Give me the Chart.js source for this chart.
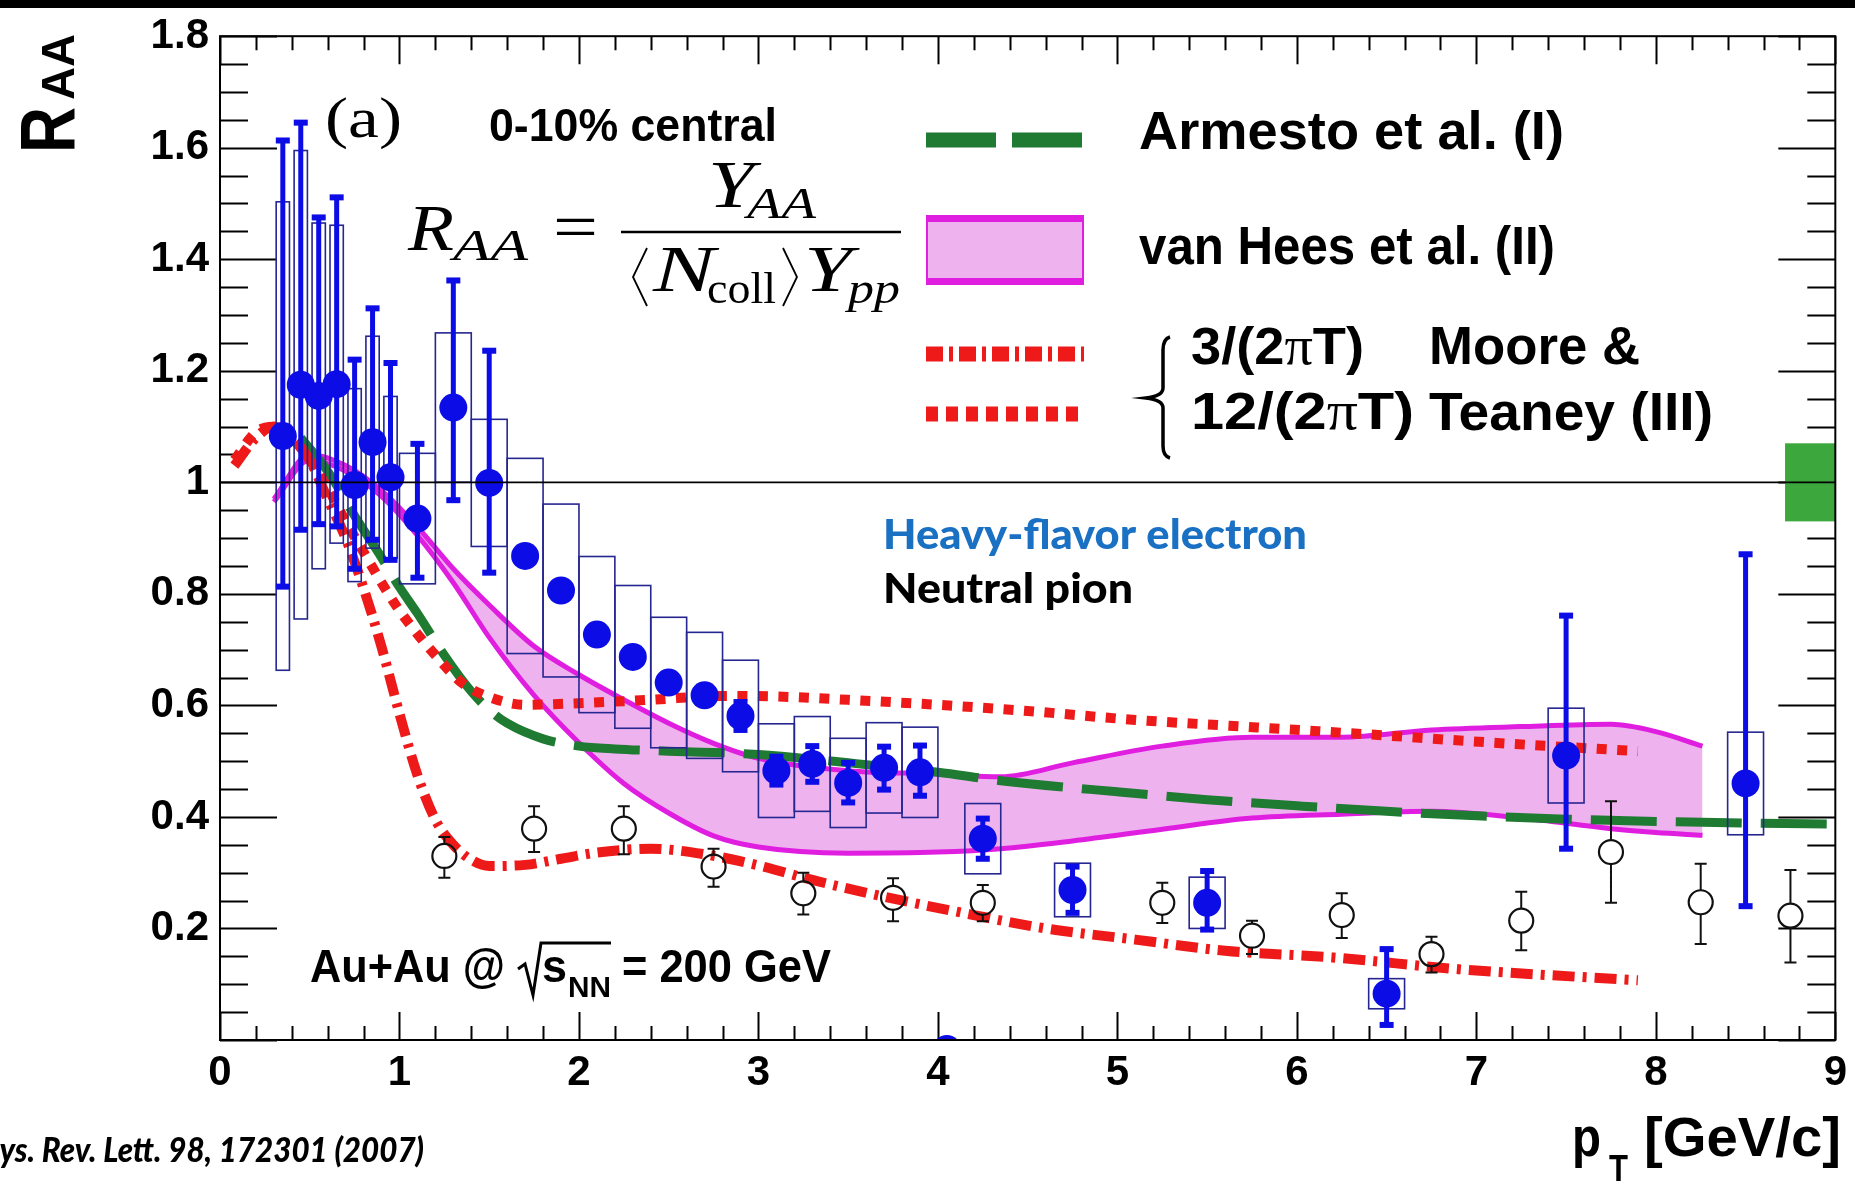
<!DOCTYPE html>
<html>
<head>
<meta charset="utf-8">
<script src="https://cdn.jsdelivr.net/npm/chart.js@4.4.1/dist/chart.umd.min.js"></script>
<style>
  html, body { margin: 0; padding: 0; background: #fff; overflow: hidden; }
  #wrap { width: 1855px; height: 1181px; }
</style>
</head>
<body>
<div id="wrap"><canvas id="c" width="1855" height="1181"></canvas></div>
<script>
// Heavy-flavour electron and pi0 nuclear modification factor, 0-10% central Au+Au, 200 GeV

// ---- heavy-flavour electrons (filled circles, stat. bars, syst. boxes) ----
const hfePt      = [0.35, 0.45, 0.55, 0.65, 0.75, 0.85, 0.95, 1.1, 1.3, 1.5, 1.7, 1.9, 2.1, 2.3, 2.5, 2.7, 2.9, 3.1, 3.3, 3.5, 3.7, 3.9, 4.05, 4.25, 4.75, 5.5, 6.5, 7.5, 8.5];
const hfeRaa     = [1.083, 1.175, 1.155, 1.176, 0.995, 1.072, 1.009, 0.935, 1.134, 0.999, 0.868, 0.806, 0.727, 0.687, 0.641, 0.618, 0.581, 0.483, 0.495, 0.461, 0.488, 0.480, -0.016, 0.361, 0.269, 0.246, 0.083, 0.510, 0.460];
const hfeStatUp  = [0.53, 0.47, 0.32, 0.335, 0.225, 0.24, 0.205, 0.134, 0.228, 0.237, 0, 0, 0, 0, 0, 0, 0.025, 0.025, 0.032, 0.036, 0.038, 0.048, 0, 0.036, 0.042, 0.057, 0.080, 0.251, 0.411];
const hfeStatDn  = [0.27, 0.26, 0.23, 0.255, 0.15, 0.175, 0.148, 0.106, 0.166, 0.161, 0, 0, 0, 0, 0, 0, 0.025, 0.025, 0.032, 0.035, 0.039, 0.042, 0, 0.036, 0.041, 0.048, 0.056, 0.167, 0.22];
const hfeSys     = [0.42, 0.42, 0.31, 0.285, 0.173, 0.19, 0.145, 0.117, 0.134, 0.114, 0.175, 0.155, 0.14, 0.128, 0.117, 0.113, 0.1, 0.084, 0.085, 0.08, 0.081, 0.081, 0, 0.063, 0.048, 0.046, 0.027, 0.085, 0.092];

// ---- neutral pions (open circles) ----
const pi0Pt    = [1.25, 1.75, 2.25, 2.75, 3.25, 3.75, 4.25, 5.25, 5.75, 6.25, 6.75, 7.25, 7.75, 8.25, 8.75];
const pi0Raa   = [0.330, 0.379, 0.379, 0.311, 0.263, 0.255, 0.246, 0.246, 0.187, 0.224, 0.154, 0.214, 0.337, 0.247, 0.223];
const pi0ErrUp = [0.034, 0.040, 0.040, 0.032, 0.037, 0.035, 0.032, 0.036, 0.027, 0.039, 0.031, 0.052, 0.091, 0.069, 0.082];
const pi0ErrDn = [0.039, 0.042, 0.046, 0.036, 0.038, 0.042, 0.033, 0.036, 0.033, 0.041, 0.033, 0.053, 0.091, 0.075, 0.084];

// ---- model curves ----
const armestoPt  = [0.45, 0.6, 0.75, 0.9, 1.0, 1.1, 1.25, 1.4, 1.5, 1.6, 1.8, 2.0, 2.2, 2.5, 3.0, 3.5, 4.0, 4.35, 5.0, 5.5, 6.0, 6.5, 7.0, 7.5, 8.0, 8.5, 9.0];
const armestoRaa = [1.08, 1.02, 0.94, 0.865, 0.812, 0.765, 0.69, 0.625, 0.592, 0.568, 0.54, 0.527, 0.522, 0.518, 0.512, 0.497, 0.48, 0.465, 0.445, 0.431, 0.42, 0.41, 0.402, 0.396, 0.392, 0.389, 0.387];

const vanHeesPt    = [0.3, 0.5, 0.7, 0.9, 1.1, 1.3, 1.5, 1.75, 2.0, 2.25, 2.5, 2.75, 3.0, 3.5, 4.0, 4.35, 4.75, 5.25, 5.75, 6.25, 6.75, 7.25, 7.75, 8.0, 8.26];
const vanHeesUpper = [0.97, 1.05, 1.03, 0.985, 0.92, 0.845, 0.78, 0.706, 0.655, 0.61, 0.568, 0.532, 0.505, 0.483, 0.477, 0.472, 0.497, 0.527, 0.543, 0.543, 0.556, 0.562, 0.566, 0.553, 0.527];
const vanHeesLower = [0.965, 1.04, 1.02, 0.975, 0.905, 0.82, 0.722, 0.618, 0.533, 0.46, 0.407, 0.366, 0.346, 0.335, 0.337, 0.343, 0.357, 0.378, 0.398, 0.405, 0.41, 0.398, 0.379, 0.372, 0.367];

const mooreD3Pt  = [0.08, 0.2, 0.3, 0.4, 0.5, 0.6, 0.7, 0.8, 0.9, 1.0, 1.1, 1.2, 1.3, 1.4, 1.5, 1.7, 1.9, 2.1, 2.4, 2.7, 3.0, 3.3, 3.7, 4.2, 4.6, 5.1, 5.6, 6.2, 6.9, 7.9];
const mooreD3Raa = [1.03, 1.08, 1.1, 1.08, 1.04, 0.97, 0.9, 0.81, 0.705, 0.585, 0.475, 0.395, 0.35, 0.323, 0.312, 0.314, 0.325, 0.336, 0.343, 0.333, 0.313, 0.287, 0.257, 0.224, 0.2, 0.18, 0.16, 0.148, 0.127, 0.107];

const mooreD12Pt  = [0.08, 0.2, 0.3, 0.4, 0.5, 0.6, 0.7, 0.8, 0.9, 1.0, 1.1, 1.2, 1.35, 1.5, 1.7, 2.0, 2.4, 2.8, 3.1, 3.5, 4.0, 4.5, 5.1, 5.7, 6.4, 7.1, 7.9];
const mooreD12Raa = [1.04, 1.09, 1.1, 1.08, 1.04, 0.99, 0.93, 0.875, 0.82, 0.77, 0.728, 0.69, 0.64, 0.615, 0.601, 0.604, 0.61, 0.617, 0.616, 0.61, 0.601, 0.59, 0.574, 0.562, 0.548, 0.533, 0.518];

// unit reference and common normalisation uncertainty
const unityPt  = [0, 9];
const unityRaa = [1, 1];
const normPt   = [8.72, 9.0];
const normRaa  = [0.93, 1.07];

// axis tick values
const xMajorStep = 1, xMinorStep = 0.2;
const yMajorStep = 0.2, yMinorStep = 0.05;

// ---- style ----
const BLUE = '#0c0ce6', BOXBLUE = '#262690', MAGENTA = '#e01ee0', PINK = '#eeb3ef',
      RED = '#ee1a1a', DGREEN = '#1f7a32', NGREEN = '#3ca73c';
const SANS = '"Liberation Sans", Arial, Helvetica, sans-serif';
const SERIF = '"Liberation Serif", "Times New Roman", serif';
const HUM = 'Lato, "Open Sans", sans-serif';

const xy = (xs, ys) => xs.map((x, i) => ({ x, y: ys[i] }));

// draw a sequence of text runs on one baseline, optionally squeezed/stretched to a width
function runs(ctx, x, y, parts, targetW, color) {
  let w = 0;
  for (const p of parts) { ctx.font = p.f; p.w = ctx.measureText(p.t).width; w += p.w; }
  const sx = targetW ? targetW / w : 1;
  ctx.save();
  ctx.translate(x, y);
  ctx.scale(sx, 1);
  ctx.textAlign = 'left';
  ctx.textBaseline = 'alphabetic';
  let cx = 0;
  for (const p of parts) {
    ctx.font = p.f;
    ctx.fillStyle = p.c || color || '#000';
    ctx.fillText(p.t, cx, p.dy || 0);
    cx += p.w;
  }
  ctx.restore();
}
const bold = (s) => `bold ${s}px ${SANS}`;

const decorations = {
  id: 'decorations',
  beforeDraw(chart) {
    const ctx = chart.ctx;
    ctx.save();
    ctx.fillStyle = '#fff';
    ctx.fillRect(0, 0, chart.width, chart.height);
    ctx.fillStyle = '#000';
    ctx.fillRect(0, 0, chart.width, 8);
    ctx.restore();
  },
  beforeDatasetsDraw(chart) {
    const { ctx, chartArea: a, scales: { x, y } } = chart;
    ctx.save();
    ctx.strokeStyle = '#000';
    ctx.lineWidth = 2;
    ctx.beginPath();
    // ticks on all four sides, pointing into the frame
    for (let v = 0; v <= 9 + 1e-9; v += xMinorStep) {
      const major = Math.abs(v / xMajorStep - Math.round(v / xMajorStep)) < 1e-6;
      const px = Math.round(x.getPixelForValue(v)) + 0.5;
      const len = major ? 28 : 14;
      ctx.moveTo(px, a.bottom); ctx.lineTo(px, a.bottom - len);
      ctx.moveTo(px, a.top); ctx.lineTo(px, a.top + len);
    }
    for (let v = 0; v <= 1.8 + 1e-9; v += yMinorStep) {
      const major = Math.abs(v / yMajorStep - Math.round(v / yMajorStep)) < 1e-6;
      const py = Math.round(y.getPixelForValue(v)) + 0.5;
      const len = major ? 57 : 28;
      ctx.moveTo(a.left, py); ctx.lineTo(a.left + len, py);
      ctx.moveTo(a.right, py); ctx.lineTo(a.right - len, py);
    }
    ctx.stroke();
    // global normalisation uncertainty
    ctx.fillStyle = NGREEN;
    const bx0 = x.getPixelForValue(normPt[0]), bx1 = x.getPixelForValue(normPt[1]);
    const by0 = y.getPixelForValue(normRaa[1]), by1 = y.getPixelForValue(normRaa[0]);
    ctx.fillRect(bx0, by0, bx1 - bx0, by1 - by0);
    ctx.restore();
  },
  beforeDatasetDraw(chart, args) {
    const ds = chart.data.datasets[args.index];
    const { ctx, chartArea: a, scales: { x, y } } = chart;
    if (ds.label !== 'hfe' && ds.label !== 'pi0') return;
    ctx.save();
    ctx.beginPath();
    ctx.rect(a.left, a.top, a.right - a.left, a.bottom - a.top);
    ctx.clip();
    if (ds.label === 'hfe') {
      // systematic boxes
      ctx.strokeStyle = BOXBLUE;
      ctx.lineWidth = 1.6;
      hfePt.forEach((pt, i) => {
        if (!hfeSys[i]) return;
        const hw = pt < 1 ? 0.037 : 0.1;
        const x0 = x.getPixelForValue(pt - hw), x1 = x.getPixelForValue(pt + hw);
        const y0 = y.getPixelForValue(hfeRaa[i] + hfeSys[i]), y1 = y.getPixelForValue(hfeRaa[i] - hfeSys[i]);
        ctx.strokeRect(x0, y0, x1 - x0, y1 - y0);
      });
      // statistical bars
      ctx.strokeStyle = BLUE;
      ctx.fillStyle = BLUE;
      ctx.lineWidth = 5;
      hfePt.forEach((pt, i) => {
        if (!hfeStatUp[i] && !hfeStatDn[i]) return;
        const px = x.getPixelForValue(pt);
        const yt = y.getPixelForValue(hfeRaa[i] + hfeStatUp[i]);
        const yb = y.getPixelForValue(hfeRaa[i] - hfeStatDn[i]);
        ctx.beginPath(); ctx.moveTo(px, yt); ctx.lineTo(px, yb); ctx.stroke();
        ctx.fillRect(px - 7, yt - 3, 14, 6);
        ctx.fillRect(px - 7, yb - 3, 14, 6);
      });
    } else {
      ctx.strokeStyle = '#111';
      ctx.lineWidth = 2;
      ctx.beginPath();
      const r = 12;
      pi0Pt.forEach((pt, i) => {
        const px = x.getPixelForValue(pt);
        const pc = y.getPixelForValue(pi0Raa[i]);
        const yt = y.getPixelForValue(pi0Raa[i] + pi0ErrUp[i]);
        const yb = y.getPixelForValue(pi0Raa[i] - pi0ErrDn[i]);
        if (pc - yt > r) { ctx.moveTo(px, pc - r); ctx.lineTo(px, yt); }
        if (yb - pc > r) { ctx.moveTo(px, pc + r); ctx.lineTo(px, yb); }
        ctx.moveTo(px - 6, yt); ctx.lineTo(px + 6, yt);
        ctx.moveTo(px - 6, yb); ctx.lineTo(px + 6, yb);
      });
      ctx.stroke();
    }
    ctx.restore();
  },
  afterDatasetsDraw(chart) {
    const { ctx, chartArea: a } = chart;
    ctx.save();
    ctx.strokeStyle = '#000';
    ctx.lineWidth = 2;
    ctx.strokeRect(a.left, a.top, a.right - a.left, a.bottom - a.top);
    ctx.restore();
  },
  afterDraw(chart) {
    const ctx = chart.ctx;
    ctx.save();

    // axis titles
    ctx.save();
    ctx.translate(74, 153);
    ctx.rotate(-Math.PI / 2);
    runs(ctx, 0, 0, [{ t: 'R', f: bold(78) }], 46, '#000');
    ctx.restore();
    ctx.save();
    ctx.translate(74, 100);
    ctx.rotate(-Math.PI / 2);
    runs(ctx, 0, 0, [{ t: 'AA', f: bold(47) }], 66, '#000');
    ctx.restore();

    runs(ctx, 1572, 1156, [{ t: 'p', f: bold(56) }], 29, '#000');
    runs(ctx, 1609, 1182, [{ t: 'T', f: bold(38) }], 19, '#000');
    runs(ctx, 1644, 1156, [{ t: '[GeV/c]', f: bold(56) }], 197, '#000');

    // panel label, centrality
    runs(ctx, 325, 137, [{ t: '(a)', f: `56px ${SERIF}` }], 77, '#000');
    runs(ctx, 489, 141, [{ t: '0-10% central', f: bold(47) }], 288, '#000');

    // R_AA definition
    const it = (s) => `italic ${s}px ${SERIF}`, rm = (s) => `${s}px ${SERIF}`;
    runs(ctx, 408, 250, [{ t: 'R', f: it(66) }], 46, '#000');
    runs(ctx, 453, 260, [{ t: 'AA', f: it(44) }], 75, '#000');
    runs(ctx, 553, 249, [{ t: '=', f: rm(66) }], 45, '#000');
    runs(ctx, 708, 207, [{ t: 'Y', f: it(68) }], 46, '#000');
    runs(ctx, 747, 218, [{ t: 'AA', f: it(44) }], 69, '#000');
    runs(ctx, 653, 291, [{ t: 'N', f: it(66) }], 62, '#000');
    runs(ctx, 707, 303, [{ t: 'coll', f: rm(44) }], 69, '#000');
    runs(ctx, 804, 291, [{ t: 'Y', f: it(66) }], 48, '#000');
    runs(ctx, 848, 303, [{ t: 'pp', f: it(44) }], 52, '#000');
    ctx.strokeStyle = '#000';
    ctx.lineWidth = 2.5;
    ctx.beginPath();
    ctx.moveTo(621, 232); ctx.lineTo(901, 232);
    ctx.stroke();
    ctx.lineWidth = 1.8;
    ctx.beginPath();
    ctx.moveTo(647, 248); ctx.lineTo(633, 277); ctx.lineTo(647, 306);
    ctx.moveTo(783, 248); ctx.lineTo(797, 277); ctx.lineTo(783, 306);
    ctx.stroke();

    // legend: samples
    ctx.lineCap = 'butt';
    ctx.strokeStyle = DGREEN; ctx.lineWidth = 15; ctx.setLineDash([70, 16]);
    ctx.beginPath(); ctx.moveTo(926, 140); ctx.lineTo(1084, 140); ctx.stroke();
    ctx.setLineDash([]);
    ctx.fillStyle = PINK; ctx.fillRect(926, 216, 158, 68);
    ctx.fillStyle = MAGENTA;
    ctx.fillRect(926, 215, 158, 7); ctx.fillRect(926, 278, 158, 7);
    ctx.fillRect(926, 215, 2, 70); ctx.fillRect(1082, 215, 2, 70);
    ctx.strokeStyle = RED; ctx.lineWidth = 15;
    ctx.setLineDash([17, 6, 4, 6]);
    ctx.beginPath(); ctx.moveTo(926, 354); ctx.lineTo(1084, 354); ctx.stroke();
    ctx.setLineDash([12, 8]);
    ctx.beginPath(); ctx.moveTo(926, 414); ctx.lineTo(1084, 414); ctx.stroke();
    ctx.setLineDash([]);
    // brace grouping the two Moore & Teaney curves
    ctx.strokeStyle = '#000'; ctx.lineWidth = 3.5;
    ctx.beginPath();
    ctx.moveTo(1170, 337);
    ctx.quadraticCurveTo(1163, 339, 1163, 350);
    ctx.lineTo(1163, 388);
    ctx.quadraticCurveTo(1163, 396, 1146, 398);
    ctx.quadraticCurveTo(1163, 400, 1163, 408);
    ctx.lineTo(1163, 446);
    ctx.quadraticCurveTo(1163, 456, 1170, 458);
    ctx.stroke();

    // legend: text
    runs(ctx, 1139, 149, [{ t: 'Armesto et al. (I)', f: bold(53) }], 425, '#000');
    runs(ctx, 1139, 264, [{ t: 'van Hees et al. (II)', f: bold(53) }], 416, '#000');
    runs(ctx, 1191, 364, [{ t: '3/(2', f: bold(52) }, { t: 'π', f: rm(54) }, { t: 'T)', f: bold(52) }], 173, '#000');
    runs(ctx, 1429, 364, [{ t: 'Moore &', f: bold(53) }], 211, '#000');
    runs(ctx, 1191, 429, [{ t: '12/(2', f: bold(52) }, { t: 'π', f: rm(54) }, { t: 'T)', f: bold(52) }], 223, '#000');
    runs(ctx, 1429, 430, [{ t: 'Teaney (III)', f: bold(53) }], 284, '#000');

    // species labels
    runs(ctx, 883, 549, [{ t: 'Heavy-flavor electron', f: `900 41px ${HUM}` }], 424, '#1a70c2');
    runs(ctx, 883, 603, [{ t: 'Neutral pion', f: `900 41px ${HUM}` }], 250, '#000');

    // collision system
    runs(ctx, 310, 982, [{ t: 'Au+Au @', f: bold(47) }], 195, '#000');
    ctx.strokeStyle = '#000'; ctx.lineWidth = 3;
    ctx.beginPath();
    ctx.moveTo(518, 969); ctx.lineTo(525, 964); ctx.lineTo(533, 995); ctx.lineTo(541, 943); ctx.lineTo(611, 943);
    ctx.stroke();
    runs(ctx, 542, 982, [{ t: 's', f: bold(47) }], 25, '#000');
    runs(ctx, 568, 997, [{ t: 'NN', f: bold(30) }], 43, '#000');
    runs(ctx, 622, 982, [{ t: '= 200 GeV', f: bold(47) }], 209, '#000');

    // reference
    ctx.font = `italic 900 35px ${HUM}`;
    const full = 'Phys. Rev. Lett. 98, 172301 (2007)';
    const head = ctx.measureText('Ph').width;
    const tail = ctx.measureText(full).width - head;
    const sx = 424 / tail;
    ctx.save();
    ctx.translate(-head * sx, 1162);
    ctx.scale(sx, 1);
    ctx.fillStyle = '#000';
    ctx.textBaseline = 'alphabetic';
    ctx.fillText(full, 0, 0);
    ctx.restore();

    ctx.restore();
  }
};

const tickFont = { family: SANS, size: 42, weight: 'bold' };

new Chart(document.getElementById('c'), {
  type: 'scatter',
  data: {
    datasets: [
      { label: 'hfe', type: 'scatter', data: xy(hfePt, hfeRaa), order: 1, clip: 0,
        pointRadius: 14, pointBackgroundColor: BLUE, pointBorderWidth: 0, showLine: false },
      { label: 'pi0', type: 'scatter', data: xy(pi0Pt, pi0Raa), order: 2,
        pointRadius: 12, pointBackgroundColor: 'rgba(0,0,0,0)', pointBorderColor: '#111', pointBorderWidth: 2.2, showLine: false },
      { label: 'Moore & Teaney 3/(2piT)', type: 'line', data: xy(mooreD3Pt, mooreD3Raa), order: 3,
        borderColor: RED, borderWidth: 10, borderDash: [22, 8, 4, 8], pointRadius: 0, cubicInterpolationMode: 'monotone', fill: false },
      { label: 'Moore & Teaney 12/(2piT)', type: 'line', data: xy(mooreD12Pt, mooreD12Raa), order: 4,
        borderColor: RED, borderWidth: 10, borderDash: [10, 10.5], pointRadius: 0, cubicInterpolationMode: 'monotone', fill: false },
      { label: 'Armesto et al.', type: 'line', data: xy(armestoPt, armestoRaa), order: 5,
        borderColor: DGREEN, borderWidth: 9, borderDash: [66, 19], pointRadius: 0, cubicInterpolationMode: 'monotone', fill: false },
      { label: 'van Hees upper', type: 'line', data: xy(vanHeesPt, vanHeesUpper), order: 6,
        borderColor: MAGENTA, borderWidth: 5, backgroundColor: PINK, pointRadius: 0, cubicInterpolationMode: 'monotone', fill: '+1' },
      { label: 'van Hees lower', type: 'line', data: xy(vanHeesPt, vanHeesLower), order: 7,
        borderColor: MAGENTA, borderWidth: 5, pointRadius: 0, cubicInterpolationMode: 'monotone', fill: false },
      { label: 'unity', type: 'line', data: xy(unityPt, unityRaa), order: 0,
        borderColor: '#000', borderWidth: 1.8, pointRadius: 0, fill: false }
    ]
  },
  options: {
    responsive: false,
    animation: false,
    devicePixelRatio: 1,
    layout: { padding: { top: 27, right: 15, left: 0, bottom: 0 } },
    plugins: { legend: { display: false }, tooltip: { enabled: false },
               filler: { drawTime: 'beforeDatasetsDraw' } },
    scales: {
      x: {
        type: 'linear', min: 0, max: 9,
        ticks: { stepSize: xMajorStep, font: tickFont, color: '#000', padding: 8, maxRotation: 0, autoSkip: false },
        grid: { display: false, drawTicks: false },
        border: { display: false },
        afterFit(s) { s.height = 141; }
      },
      y: {
        type: 'linear', min: 0, max: 1.8,
        ticks: { stepSize: yMajorStep, font: tickFont, color: '#000', padding: 11, autoSkip: false,
                 callback: (v) => (Math.abs(v) < 1e-9 ? '' : String(+v.toFixed(1))) },
        grid: { display: false, drawTicks: false },
        border: { display: false },
        afterFit(s) { s.width = 220; }
      }
    }
  },
  plugins: [decorations]
});
</script>
</body>
</html>
